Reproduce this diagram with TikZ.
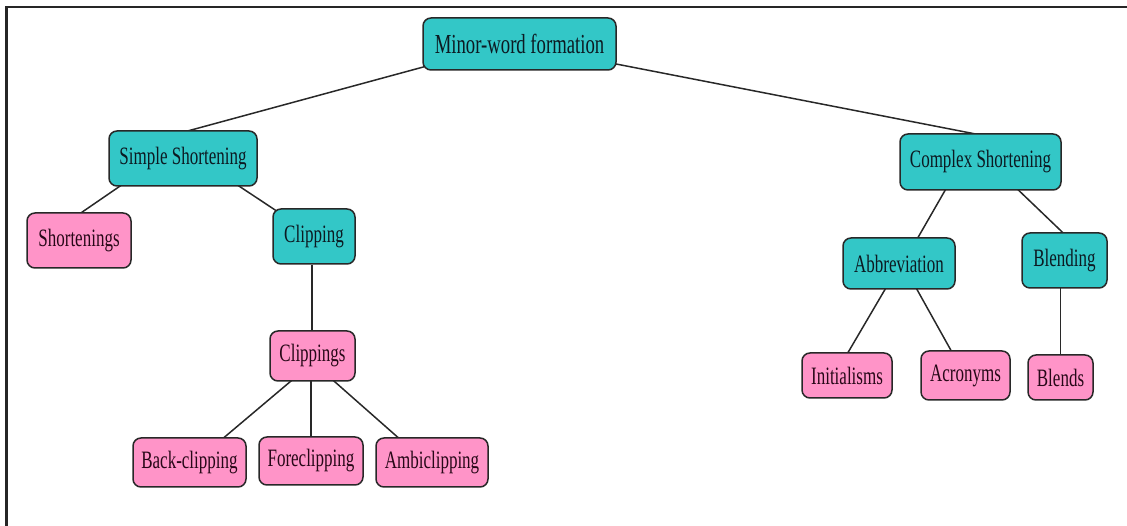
\documentclass[tikz,border=0pt]{standalone}
\usepackage{fontspec}
\newfontfamily\nodefont{Liberation Serif}[FakeStretch=0.68]
\usetikzlibrary{backgrounds}
\definecolor{tealbox}{RGB}{51,199,199}
\definecolor{pinkbox}{RGB}{255,148,200}
\definecolor{edgegray}{RGB}{40,40,40}
\definecolor{tealtext}{RGB}{12,26,34}
\definecolor{pinktext}{RGB}{40,8,24}
\tikzset{
  basebox/.style={draw=edgegray, line width=1.5pt, rounded corners=8pt, inner sep=0pt, align=center,
    font=\nodefont\fontsize{25}{28}\selectfont},
  tealnode/.style={basebox, fill=tealbox, text=tealtext},
  pinknode/.style={basebox, fill=pinkbox, text=pinktext},
  link/.style={draw=edgegray, line width=1.5pt},
  frameline/.style={draw=black!85, line width=2.2pt}
}
\begin{document}
\begin{tikzpicture}[x=1pt,y=1pt]
\useasboundingbox (0,0) rectangle (1127,526);
\draw[frameline] (6.5,0) -- (6.5,519) -- (1127,519);

\node[tealnode, minimum width=193pt, minimum height=52pt, font=\nodefont\fontsize{27.5}{30}\selectfont] (root) at (519.5,482) {Minor-word formation};
\node[tealnode, minimum width=148pt, minimum height=55pt] (simple) at (183,367.5) {Simple Shortening};
\node[pinknode, minimum width=104pt, minimum height=55pt] (shortenings) at (79,285.5) {Shortenings};
\node[tealnode, minimum width=82pt, minimum height=55pt] (clipping) at (314,289.5) {Clipping};
\node[pinknode, minimum width=85pt, minimum height=50pt] (clippings) at (312.5,170) {Clippings};
\node[pinknode, minimum width=113pt, minimum height=49pt] (back) at (189.5,63.5) {Back-clipping};
\node[pinknode, minimum width=104pt, minimum height=48pt] (fore) at (311,65) {Foreclipping};
\node[pinknode, minimum width=112pt, minimum height=49pt] (ambi) at (432,63.5) {Ambiclipping};
\node[tealnode, minimum width=161pt, minimum height=56pt] (complex) at (980.5,364) {Complex Shortening};
\node[tealnode, minimum width=112pt, minimum height=51pt] (abbrev) at (899,262.5) {Abbreviation};
\node[tealnode, minimum width=85pt, minimum height=55pt] (blending) at (1064.5,265.5) {Blending};
\node[pinknode, minimum width=90pt, minimum height=45pt] (initialisms) at (847,150.5) {Initialisms};
\node[pinknode, minimum width=89pt, minimum height=49pt] (acronyms) at (965.5,150.5) {Acronyms};
\node[pinknode, minimum width=65pt, minimum height=45pt] (blends) at (1060.5,148.5) {Blends};

\begin{scope}[on background layer]
\draw[link] ([xshift=2pt,yshift=4pt]root.south west) -- ([yshift=-2pt]simple.north);
\draw[link] ([xshift=-2pt,yshift=7pt]root.south east) -- ([xshift=1.5pt,yshift=-2pt]complex.north);
\draw[link] ([xshift=-61pt,yshift=2pt]simple.south) -- ([yshift=-2pt]shortenings.north);
\draw[link] ([xshift=54pt,yshift=2pt]simple.south) -- ([xshift=4pt,yshift=-2.5pt]clipping.north west);
\draw[link] ([xshift=-2pt]clipping.south) -- ([xshift=-0.5pt]clippings.north);
\draw[link] ([xshift=-20pt,yshift=2pt]clippings.south) -- ([xshift=32.5pt,yshift=-2pt]back.north);
\draw[link] (fore.north) -- ([yshift=2pt]fore.north |- clippings.south);
\draw[link] ([xshift=20pt,yshift=2pt]clippings.south) -- ([xshift=-32pt,yshift=-2pt]ambi.north);
\draw[link] ([xshift=-34.5pt,yshift=2pt]complex.south) -- ([xshift=18pt,yshift=-2pt]abbrev.north);
\draw[link] ([xshift=36.5pt,yshift=2pt]complex.south) -- ([yshift=-2pt]blending.north);
\draw[link] ([xshift=-13pt,yshift=2pt]abbrev.south) -- ([yshift=-2pt]initialisms.north);
\draw[link] ([xshift=17pt,yshift=2pt]abbrev.south) -- ([xshift=-13.5pt,yshift=-2pt]acronyms.north);
\draw[link] (blends.north) -- ([yshift=2pt]blends.north |- blending.south);
\end{scope}
\end{tikzpicture}
\end{document}
